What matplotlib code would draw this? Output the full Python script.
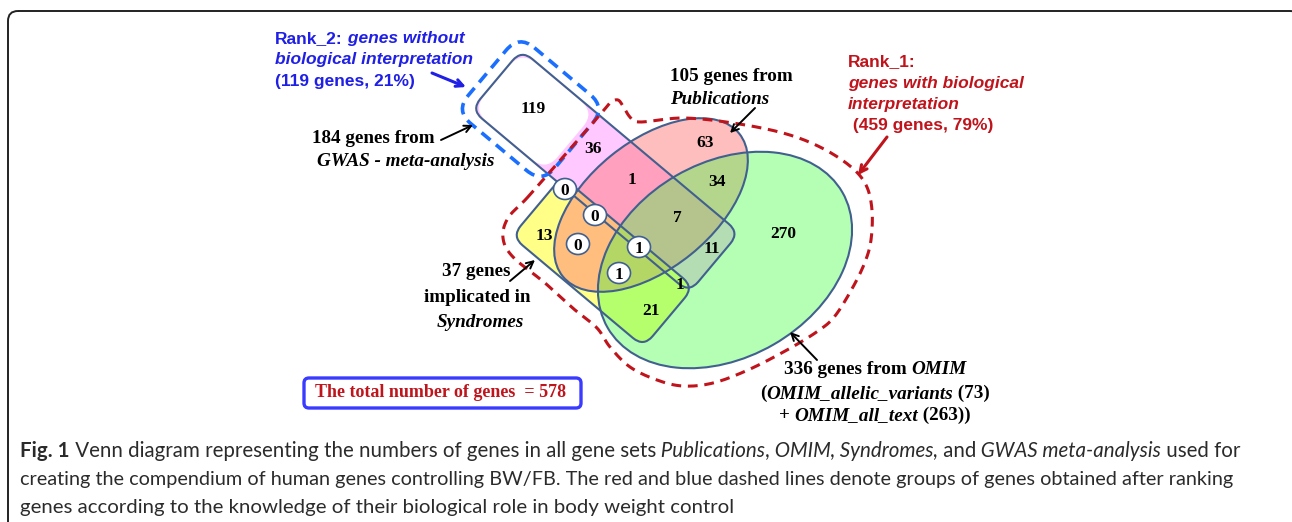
import numpy as np
import matplotlib
matplotlib.use('Agg')
import matplotlib.pyplot as plt
from matplotlib.patches import FancyBboxPatch, Ellipse
from matplotlib.transforms import Affine2D

# gene counts in the Venn regions
region_counts = [119, 36, 63, 1, 34, 7, 270, 13, 11, 1, 21]
circled_counts = [0, 0, 0, 1, 1]
# gene set sizes
set_sizes = {'GWAS': 184, 'Publications': 105, 'Syndromes': 37, 'OMIM': 336}
omim_parts = [73, 263]
rank1 = [459, 79]
rank2 = [119, 21]
total_genes = 578

# label positions (pixels)
region_xy = [(533, 107), (593, 147), (705, 141), (632, 178), (717, 180), (677, 216),
             (783, 232), (544, 234), (712, 247), (680, 283), (651, 309)]
circled_xy = [(565, 189), (595, 215), (578, 244), (639, 247), (619, 273)]

SERIF = 'Liberation Serif'
SANS = 'Liberation Sans'
CAP = 'Lato'
LINE = '#41608f'
BLUE = '#1f1fe6'
RED = '#c0141c'

fig = plt.figure(figsize=(12.92, 5.22), dpi=100)
ax = fig.add_axes([0, 0, 1, 1])
ax.set_xlim(0, 1292)
ax.set_ylim(522, 0)
ax.axis('off')
renderer = fig.canvas.get_renderer()


def text_width(s, **style):
    t = ax.text(0, 0, 'I' + s + 'I', **style)
    t2 = ax.text(0, 0, 'II', **style)
    w = t.get_window_extent(renderer).width - t2.get_window_extent(renderer).width
    t.remove()
    t2.remove()
    return w


def runs(x, y, parts, ha='left', **kw):
    styles = [{**kw, **st} for _, st in parts]
    widths = [text_width(s, **st) for (s, _), st in zip(parts, styles)]
    start = x - sum(widths) / 2 if ha == 'center' else x
    for (s, _), st, w in zip(parts, styles, widths):
        ax.text(start, y, s, va='baseline', ha='left', zorder=8, **st)
        start += w


# outer frame
frame = FancyBboxPatch((18, 21), 1272, 510, boxstyle='round,pad=10', fc='none',
                       ec='#222222', lw=1.4, zorder=0, clip_on=True)
ax.add_patch(frame)

# rotated frame for the two rounded rectangles
rot = Affine2D().rotate_deg(40).translate(604.75, 170.75) + ax.transData


def rrect(s0, s1, t0, t1, r, **kw):
    return FancyBboxPatch((s0 + r, t0 + r), s1 - s0 - 2 * r, t1 - t0 - 2 * r,
                          boxstyle=f'round,pad={r}', transform=rot, **kw)


gwas_box = (-141.5, 143, -39, 39, 14)
syn_box = (-29, 143, 32, 110, 14)

ax.add_patch(rrect(*gwas_box, fc='#ffc8ff', ec='none', zorder=1))
ax.add_patch(rrect(*syn_box, fc='#ffff88', ec='none', zorder=1.1))
ax.add_patch(rrect(-140.5, -45, -38, 38, 18, fc='white', ec='none', zorder=1.2))

pub = dict(xy=(651, 205), width=227, height=127, angle=-39)
omim = dict(xy=(725, 260), width=271, height=195, angle=-30)
ax.add_patch(Ellipse(**pub, fc=(1, 0.44, 0.44), alpha=0.455, ec='none', zorder=2))
ax.add_patch(Ellipse(**omim, fc=(0.24, 1, 0.24), alpha=0.385, ec='none', zorder=3))

# outlines
ax.add_patch(rrect(*gwas_box, fc='none', ec=LINE, lw=1.5, zorder=4))
ax.add_patch(rrect(*syn_box, fc='none', ec=LINE, lw=1.5, zorder=4))
ax.add_patch(Ellipse(**pub, fc='none', ec=LINE, lw=1.5, zorder=4))
ax.add_patch(Ellipse(**omim, fc='none', ec=LINE, lw=1.5, zorder=4))

# blue dashed group (Rank_2)
ax.add_patch(rrect(-153, -40, -49, 50, 20, fc='none', ec='#1a6fff', lw=2.6,
                   ls=(0, (3.2, 2)), zorder=5))


# red dashed group (Rank_1)
def smooth_closed(pts, n=16):
    P = np.array(pts, float)
    m = len(P)
    t = np.linspace(0, 1, n, endpoint=False)[:, None]
    out = []
    for i in range(m):
        p0, p1, p2, p3 = P[i - 1], P[i], P[(i + 1) % m], P[(i + 2) % m]
        out.append(0.5 * (2 * p1 + (p2 - p0) * t + (2 * p0 - 5 * p1 + 4 * p2 - p3) * t ** 2
                          + (3 * p1 - p0 - 3 * p2 + p3) * t ** 3))
    out = np.vstack(out)
    return np.vstack([out, out[:1]])


red_outline = [(527, 198), (556, 165), (585, 132), (604, 110), (611, 102), (618, 100),
               (623, 106), (630, 117), (640, 122), (683, 118), (733, 123), (783, 133),
               (820, 147), (850, 166), (866, 185), (872, 210), (871, 240), (865, 262),
               (853, 287), (835, 316), (818, 331), (787, 350), (748, 370), (713, 383),
               (683, 386), (657, 380), (630, 367), (610, 347), (597, 328), (575, 310),
               (545, 283), (513, 257), (503, 238), (508, 218)]
rc = smooth_closed(red_outline)
ax.plot(rc[:, 0], rc[:, 1], color=RED, lw=2.2, ls=(0, (3.2, 2.2)), zorder=5)

# region numbers
num_style = dict(family=SERIF, weight='bold', size=12.5, color='black')
for v, (x, y) in zip(region_counts, region_xy):
    ax.text(x, y + 6, str(v), ha='center', va='baseline', zorder=7, **num_style)
for v, (x, y) in zip(circled_counts, circled_xy):
    ax.add_patch(Ellipse((x, y), 23, 21, fc='white', ec=LINE, lw=1.2, zorder=6))
    ax.text(x, y + 6, str(v), ha='center', va='baseline', zorder=7, **num_style)


# arrows
def arrow(x0, y0, x1, y1, color='black', lw=1.4):
    ax.annotate('', xy=(x1, y1), xytext=(x0, y0), zorder=7,
                arrowprops=dict(arrowstyle='->,head_length=0.5,head_width=0.25',
                                color=color, lw=lw, shrinkA=0, shrinkB=0))


arrow(432, 73, 466, 87, color=BLUE, lw=2.2)
arrow(441, 140, 473, 125)
arrow(755, 108, 730, 133)
arrow(887, 137, 858, 175, color=RED, lw=2.2)
arrow(510, 281, 535, 260)
arrow(817, 360, 790, 332)

B = dict(weight='bold')
BI = dict(weight='bold', style='italic')

# Rank_2 label
rk = dict(family=SANS, size=12.5, color=BLUE)
runs(275, 43, [('Rank_2:', B), (' genes without', BI)], **rk)
runs(275, 64, [('biological interpretation', BI)], **rk)
runs(275, 86, [(f'({rank2[0]} genes, {rank2[1]}%)', B)], **rk)

# Rank_1 label
rk = dict(family=SANS, size=12.5, color=RED)
runs(848, 66, [('Rank_1:', B)], **rk)
runs(848, 88, [('genes with biological', BI)], **rk)
runs(848, 109, [('interpretation', BI)], **rk)
runs(848, 130, [(f' ({rank1[0]} genes, {rank1[1]}%)', B)], **rk)

# set labels
lb = dict(family=SERIF, size=13.8, color='black')
runs(312, 143, [(f"{set_sizes['GWAS']} genes from", B)], **lb)
runs(317, 166, [('GWAS - meta-analysis', BI)], **lb)
runs(670, 81, [(f"{set_sizes['Publications']} genes from", B)], **lb)
runs(670, 104, [('Publications', BI)], **lb)
runs(476, 276, [(f"{set_sizes['Syndromes']} genes", B)], ha='center', **lb)
runs(477, 302, [('implicated in', B)], ha='center', **lb)
runs(480, 327, [('Syndromes', BI)], ha='center', **lb)
runs(875, 374, [(f"{set_sizes['OMIM']} genes from ", B), ('OMIM', BI)], ha='center', **lb)
runs(875, 398, [('(', B), ('OMIM_allelic_variants', BI), (f' ({omim_parts[0]})', B)],
     ha='center', **lb)
runs(875, 420, [('+ ', B), ('OMIM_all_text', BI), (f' ({omim_parts[1]}))', B)],
     ha='center', **lb)

# total box
ax.add_patch(FancyBboxPatch((309, 383), 267, 20, boxstyle='round,pad=5', fc='white',
                            ec='#3b3bff', lw=2.4, zorder=6))
runs(441, 397, [(f'The total number of genes  = {total_genes}', B)], ha='center',
     family=SERIF, size=13, color=RED)

# caption
cp = dict(family=CAP, color='#2b2b2b')
N = dict()
I = dict(style='italic')
runs(20, 457, [('Fig. 1', B), (' Venn diagram representing the numbers of genes in all gene sets', N),
               (' Publications', I), (',', N), (' OMIM', I), (',', N), (' Syndromes,', I),
               (' and', N), (' GWAS meta-analysis', I), (' used for', N)], size=14.8, **cp)
runs(20, 485, [('creating the compendium of human genes controlling BW/FB. The red and blue dashed '
                'lines denote groups of genes obtained after ranking', N)], size=14.35, **cp)
runs(20, 513, [('genes according to the knowledge of their biological role in body weight control', N)],
     size=14.7, **cp)

fig.savefig('out.png', dpi=100)
